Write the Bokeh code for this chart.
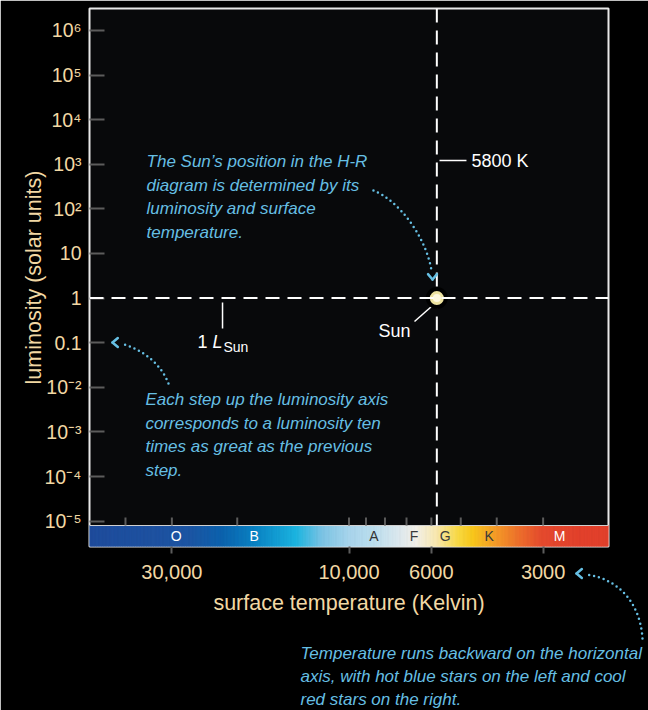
import numpy as np
from bokeh.plotting import figure
from bokeh.models import Range1d, FixedTicker, ColumnDataSource, Span
from bokeh.core.properties import value
from bokeh.embed import file_html
from bokeh.resources import INLINE

# ---------------- data ----------------
lum_ticks = [1e-5, 1e-4, 1e-3, 1e-2, 0.1, 1.0, 10.0, 100.0, 1e3, 1e4, 1e5, 1e6]
lum_tick_labels = ["10⁻⁵", "10⁻⁴", "10⁻³", "10⁻²", "0.1", "1", "10",
                   "10²", "10³", "10⁴", "10⁵", "10⁶"]
temp_major_ticks = [30000, 10000, 6000, 3000]
temp_major_labels = ["30,000", "10,000", "6000", "3000"]
temp_minor_ticks = [40000, 20000, 9000, 8000, 7000, 5000, 4000]

spectral_classes = ["O", "B", "A", "F", "G", "K", "M"]
spectral_label_temps = [29200, 18000, 8570, 6680, 5510, 4190, 2710]
spectral_label_colors = ["#ffffff", "#ffffff", "#333333", "#3a3a3a",
                         "#3a3a3a", "#3a3a3a", "#ffffff"]

gradient_temps = [50000, 27060, 22050, 17860, 13940, 11860, 10030, 8486,
                  7356, 6621, 5848, 5072, 4677, 4031, 3430, 3030, 2365, 2000]
gradient_colors = ["#1f4c9c", "#1d55a3", "#0c62ad", "#0a84c4", "#1cb4e0",
                   "#7cc4e4", "#a8d4ec", "#bedfee", "#dce8ee", "#f2f0e8",
                   "#f8e8b0", "#f8d840", "#f8c81c", "#f49a28", "#ec6a2c",
                   "#e44a2e", "#e2402c", "#e2402c"]

sun_temp = [5800]
sun_lum = [1.0]

temp_range = (50000, 2000)
lum_range = (2.7e-6, 3.1e6)
bar_top_lum = 10 ** -5.098
bar_mid_lum = 10 ** -5.333
inner_tick_top_lum = 10 ** -4.918

para1_lines = ["The Sun’s position in the H-R", "diagram is determined by its",
               "luminosity and surface", "temperature."]
para2_lines = ["Each step up the luminosity axis", "corresponds to a luminosity ten",
               "times as great as the previous", "step."]
para3_lines = ["Temperature runs backward on the horizontal",
               "axis, with hot blue stars on the left and cool",
               "red stars on the right."]

GOLD = "#f2d8a4"
BLUE = "#66bfe3"
GREY = "#5c5c5c"
FONT = "Liberation Sans"

# ---------------- figure ----------------
p = figure(width=648, height=710, x_axis_type="log", y_axis_type="log",
           x_range=Range1d(*temp_range), y_range=Range1d(*lum_range),
           output_backend="svg", toolbar_location=None,
           min_border_left=89, min_border_right=40, min_border_top=8,
           min_border_bottom=164,
           background_fill_color="#08090b", border_fill_color="#000000",
           outline_line_color="#e8e8e8", outline_line_width=2)
p.xgrid.visible = False
p.ygrid.visible = False

# spectral colour bar
lt = np.log10(gradient_temps)[::-1]
rgb = np.array([[int(c[i:i + 2], 16) for i in (1, 3, 5)] for c in gradient_colors])[::-1]
n = 300
edges = np.linspace(np.log10(temp_range[1]), np.log10(temp_range[0]), n + 1)
mids = (edges[:-1] + edges[1:]) / 2
cols = ["#%02x%02x%02x" % tuple(int(round(np.interp(m, lt, rgb[:, k]))) for k in range(3))
        for m in mids]
p.quad(left=10 ** edges[:-1], right=10 ** edges[1:], bottom=lum_range[0],
       top=bar_top_lum, fill_color=cols, line_color=cols, line_width=1)
p.segment(x0=[temp_range[0]], y0=[bar_top_lum], x1=[temp_range[1]], y1=[bar_top_lum],
          line_color="#d0d0d0", line_width=1)
p.text(x=spectral_label_temps, y=[bar_mid_lum] * len(spectral_classes),
       text=spectral_classes, text_color=spectral_label_colors,
       text_font=value(FONT), text_font_size="14px", text_align="center",
       text_baseline="middle")

# inner temperature ticks above the bar
inner = temp_major_ticks + temp_minor_ticks
p.segment(x0=inner, y0=[bar_top_lum] * len(inner), x1=inner,
          y1=[inner_tick_top_lum] * len(inner), line_color=GREY, line_width=2)

# dashed guide lines through the Sun
p.add_layout(Span(location=sun_lum[0], dimension="width", line_color="white",
                  line_width=2, line_dash="14 8"))
p.segment(x0=sun_temp, y0=[lum_range[1]], x1=sun_temp, y1=[bar_top_lum],
          line_color="white", line_width=2, line_dash="14 8")

# leader lines
p.segment(x0=[5995, 5705, 21910], y0=[0.6476, 1214, 0.796],
          x1=[6662, 4826, 21910], y1=[0.2985, 1214, 0.208],
          line_color="white", line_width=1.5)

# the Sun
p.scatter(x=sun_temp, y=sun_lum, size=22, fill_color="#000000", line_color=None)
p.scatter(x=sun_temp, y=sun_lum, size=14, fill_color="#eee3a0", line_color=None)
p.scatter(x=sun_temp, y=sun_lum, size=8, fill_color="#fffbe6", line_color=None,
          fill_alpha=0.9)

# white labels
p.text(x=[8330, 4677, 25590], y=[0.1876, 1213, 0.1063], text=["Sun", "5800 K", "1"],
       text_color="white", text_font=value(FONT), text_font_size="18px",
       text_baseline="alphabetic")
p.text(x=[23320], y=[0.1063], text=["L"], text_color="white", text_font=value(FONT),
       text_font_size="18px", text_font_style="italic", text_baseline="alphabetic")
p.text(x=[21780], y=[0.0781], text=["Sun"], text_color="white", text_font=value(FONT),
       text_font_size="14px", text_baseline="alphabetic")

# explanatory paragraphs
def para(lines, x, first_log, step):
    return dict(x=[x] * len(lines),
                y=[10 ** (first_log - i * step) for i in range(len(lines))],
                text=lines)

pdata = {k: [] for k in ("x", "y", "text")}
for d in (para(para1_lines, 35100, 3.062, 0.53),
          para(para2_lines, 35350, -2.273, 0.53),
          para(para3_lines, 13510, -7.967, 0.516)):
    for k in pdata:
        pdata[k] += d[k]
tr = p.text(x="x", y="y", text="text", source=ColumnDataSource(pdata),
            text_color=BLUE, text_font=value(FONT), text_font_style="italic",
            text_font_size="17px", text_baseline="alphabetic")
tr.level = "overlay"

# dotted curved arrows
bz = dict(x0=[8592, 30640, 1620], y0=[258, 0.01217, 2.339e-8],
          cx0=[7356, 32190, 1640], cy0=[154, 0.03597, 1.284e-7],
          cx1=[6222, 36440, 1857], cy1=[25.27, 0.0741, 5.176e-7],
          x1=[5995, 41260, 2307], y1=[4.153, 0.0959, 6.363e-7])
r = p.bezier(x0="x0", y0="y0", x1="x1", y1="y1", cx0="cx0", cy0="cy0",
             cx1="cx1", cy1="cy1", source=ColumnDataSource(bz), line_color=BLUE,
             line_width=2.5, line_dash="0 5", line_cap="round")
r.level = "overlay"

# open chevron heads: two short rays from each tip
tips_x = [5958, 43360, 2439]
tips_y = [2.61, 0.101, 6.70e-7]
back_deg = [90, 0, 0]
hx, hy, ha = [], [], []
for x, y, b in zip(tips_x, tips_y, back_deg):
    for s in (-40, 40):
        hx.append(x)
        hy.append(y)
        ha.append(b + s)
hr = p.ray(x=hx, y=hy, length=7, length_units="screen", angle=ha, angle_units="deg",
           line_color=BLUE, line_width=2.5, line_cap="round")
hr.level = "overlay"

# ---------------- axes ----------------
xa = p.xaxis[0]
xa.ticker = FixedTicker(ticks=temp_major_ticks, minor_ticks=[])
xa.major_label_overrides = dict(zip(temp_major_ticks, temp_major_labels))
xa.major_tick_in = 0
xa.major_tick_out = 7
xa.minor_tick_in = 0
xa.minor_tick_out = 0
xa.major_tick_line_color = GREY
xa.major_tick_line_width = 2
xa.axis_line_color = None
xa.major_label_text_font = FONT
xa.major_label_text_font_size = "20px"
xa.major_label_text_color = GOLD
xa.major_label_standoff = 11
xa.axis_label = "surface temperature (Kelvin)"
xa.axis_label_text_font = FONT
xa.axis_label_text_font_style = "normal"
xa.axis_label_text_font_size = "21.5px"
xa.axis_label_text_color = GOLD
xa.axis_label_standoff = 9

ya = p.yaxis[0]
ya.ticker = FixedTicker(ticks=lum_ticks, minor_ticks=[])
ya.major_label_overrides = dict(zip(lum_ticks, lum_tick_labels))
ya.major_tick_in = 15
ya.major_tick_out = 0
ya.minor_tick_in = 0
ya.minor_tick_out = 0
ya.major_tick_line_color = GREY
ya.major_tick_line_width = 2
ya.axis_line_color = None
ya.major_label_text_font = FONT
ya.major_label_text_font_size = "19.5px"
ya.major_label_text_color = GOLD
ya.major_label_standoff = 8
ya.axis_label = "luminosity (solar units)"
ya.axis_label_text_font = FONT
ya.axis_label_text_font_style = "normal"
ya.axis_label_text_font_size = "21.5px"
ya.axis_label_text_color = GOLD
ya.axis_label_standoff = -5

open("out.html", "w").write(file_html(p, INLINE))
